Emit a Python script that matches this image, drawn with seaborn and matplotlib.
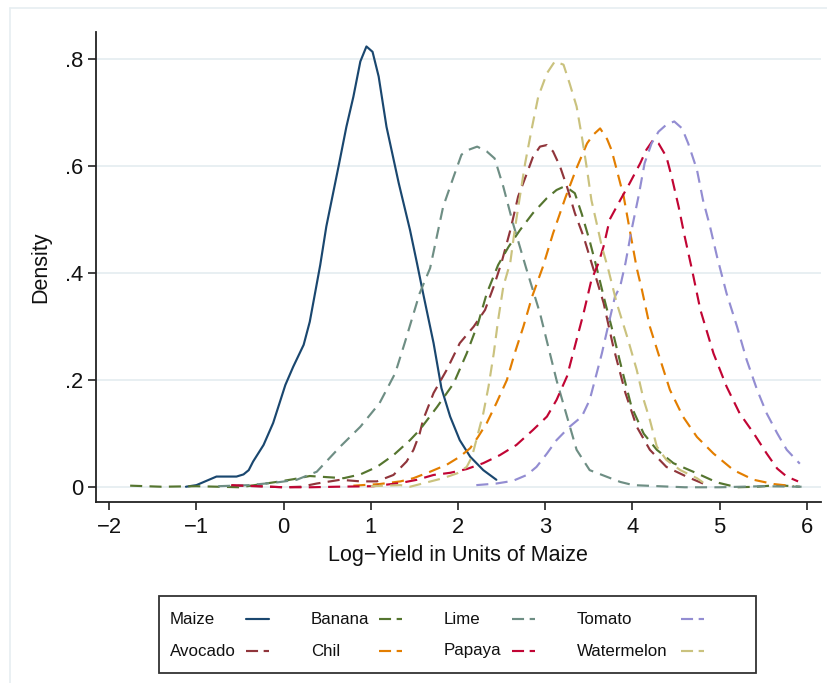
import matplotlib
matplotlib.use("Agg")
import matplotlib.pyplot as plt
from matplotlib.lines import Line2D
from matplotlib.patches import Rectangle
import pandas as pd
import seaborn as sns

# Kernel density estimates of log-yield (in units of maize) by crop
MAIZE_X = [-1.12, -1.0, -0.77, -0.54, -0.46, -0.40, -0.35, -0.23, -0.12, 0.02, 0.11, 0.23, 0.30, 0.36,
           0.42, 0.49, 0.63, 0.72, 0.80, 0.88, 0.95, 1.02, 1.09, 1.18, 1.32, 1.45, 1.53, 1.60, 1.72,
           1.81, 1.91, 2.02, 2.14, 2.29, 2.44]
MAIZE_Y = [0.001, 0.004, 0.020, 0.020, 0.024, 0.032, 0.048, 0.079, 0.120, 0.191, 0.225, 0.266, 0.309,
           0.362, 0.415, 0.487, 0.599, 0.673, 0.729, 0.795, 0.823, 0.813, 0.767, 0.673, 0.568, 0.480,
           0.418, 0.362, 0.269, 0.185, 0.132, 0.088, 0.057, 0.032, 0.014]

AVOCADO_X = [-0.60, -0.30, 0.00, 0.20, 0.38, 0.65, 0.88, 1.07, 1.26, 1.41, 1.49, 1.56, 1.60, 1.72, 1.87,
             2.02, 2.18, 2.31, 2.41, 2.50, 2.60, 2.69, 2.79, 2.86, 2.94, 3.02, 3.09, 3.17, 3.25, 3.34,
             3.44, 3.55, 3.67, 3.78, 3.92, 4.05, 4.20, 4.39, 4.62, 4.81]
AVOCADO_Y = [0.003, 0.002, 0.000, 0.001, 0.007, 0.014, 0.011, 0.011, 0.023, 0.048, 0.070, 0.100, 0.126,
             0.176, 0.219, 0.269, 0.300, 0.331, 0.375, 0.420, 0.480, 0.543, 0.586, 0.617, 0.636, 0.639,
             0.627, 0.599, 0.561, 0.512, 0.468, 0.409, 0.344, 0.263, 0.176, 0.113, 0.070, 0.038, 0.020,
             0.007]

BANANA_X = [-1.76, -1.40, -1.00, -0.50, -0.08, 0.11, 0.30, 0.49, 0.69, 0.88, 1.07, 1.26, 1.45, 1.56,
            1.76, 1.95, 2.10, 2.23, 2.33, 2.46, 2.58, 2.71, 2.86, 3.02, 3.13, 3.21, 3.28, 3.34, 3.42,
            3.51, 3.59, 3.68, 3.76, 3.88, 3.99, 4.13, 4.28, 4.47, 4.74, 4.97, 5.20, 5.43, 5.66, 5.92]
BANANA_Y = [0.003, 0.001, 0.002, 0.000, 0.010, 0.015, 0.021, 0.019, 0.017, 0.024, 0.038, 0.060, 0.088,
            0.107, 0.150, 0.194, 0.250, 0.306, 0.362, 0.415, 0.449, 0.480, 0.512, 0.540, 0.555, 0.561,
            0.556, 0.549, 0.510, 0.460, 0.410, 0.350, 0.300, 0.220, 0.150, 0.100, 0.070, 0.045, 0.026,
            0.009, 0.000, 0.001, 0.004, 0.001]

CHIL_X = [0.80, 1.10, 1.34, 1.49, 1.68, 1.87, 2.02, 2.14, 2.23, 2.33, 2.44, 2.56, 2.65, 2.75, 2.85,
          2.97, 3.09, 3.23, 3.36, 3.48, 3.55, 3.63, 3.71, 3.76, 3.82, 3.90, 3.97, 4.05, 4.11, 4.20,
          4.32, 4.43, 4.58, 4.74, 4.93, 5.16, 5.39, 5.62, 5.85]
CHIL_Y = [0.003, 0.006, 0.011, 0.017, 0.029, 0.042, 0.057, 0.073, 0.094, 0.120, 0.157, 0.200, 0.250,
          0.300, 0.356, 0.410, 0.474, 0.540, 0.596, 0.642, 0.658, 0.670, 0.650, 0.630, 0.593, 0.543,
          0.480, 0.409, 0.368, 0.300, 0.238, 0.182, 0.132, 0.094, 0.063, 0.032, 0.014, 0.006, 0.002]

LIME_X = [-0.75, -0.40, -0.08, 0.15, 0.38, 0.65, 0.88, 1.10, 1.28, 1.39, 1.56, 1.68, 1.83, 1.95, 2.04,
          2.12, 2.22, 2.33, 2.42, 2.52, 2.63, 2.78, 2.94, 3.13, 3.25, 3.36, 3.51, 3.70, 3.86, 4.01,
          4.30, 4.60, 5.00, 5.50, 5.94]
LIME_Y = [0.002, 0.004, 0.009, 0.014, 0.029, 0.076, 0.113, 0.157, 0.213, 0.270, 0.362, 0.409, 0.524,
          0.580, 0.621, 0.630, 0.636, 0.627, 0.614, 0.561, 0.493, 0.410, 0.325, 0.200, 0.132, 0.070,
          0.032, 0.020, 0.010, 0.004, 0.002, 0.000, 0.000, 0.002, 0.001]

PAPAYA_X = [-0.60, -0.30, 0.00, 0.30, 0.60, 1.03, 1.34, 1.53, 1.72, 1.91, 2.10, 2.29, 2.48, 2.67, 2.86,
            3.02, 3.13, 3.25, 3.34, 3.44, 3.53, 3.61, 3.67, 3.74, 3.86, 3.97, 4.09, 4.16, 4.24, 4.30,
            4.39, 4.45, 4.53, 4.60, 4.68, 4.78, 4.93, 5.08, 5.23, 5.39, 5.54, 5.66, 5.77, 5.90]
PAPAYA_Y = [0.004, 0.002, 0.000, 0.000, 0.001, 0.002, 0.008, 0.014, 0.023, 0.027, 0.034, 0.045, 0.060,
            0.079, 0.107, 0.132, 0.163, 0.207, 0.263, 0.325, 0.387, 0.418, 0.450, 0.500, 0.536, 0.568,
            0.605, 0.630, 0.649, 0.642, 0.617, 0.580, 0.524, 0.468, 0.409, 0.331, 0.250, 0.188, 0.138,
            0.101, 0.063, 0.035, 0.020, 0.011]

TOMATO_X = [2.21, 2.44, 2.63, 2.79, 2.90, 3.02, 3.13, 3.28, 3.42, 3.51, 3.57, 3.65, 3.72, 3.80, 3.86,
            3.92, 3.99, 4.07, 4.14, 4.22, 4.30, 4.39, 4.48, 4.57, 4.64, 4.74, 4.81, 4.89, 4.97, 5.08,
            5.20, 5.31, 5.43, 5.54, 5.66, 5.77, 5.92]
TOMATO_Y = [0.004, 0.007, 0.012, 0.023, 0.038, 0.063, 0.088, 0.113, 0.132, 0.163, 0.200, 0.250, 0.300,
            0.356, 0.375, 0.418, 0.480, 0.543, 0.605, 0.642, 0.664, 0.677, 0.683, 0.670, 0.642, 0.593,
            0.536, 0.487, 0.431, 0.362, 0.300, 0.238, 0.182, 0.138, 0.101, 0.070, 0.044]

WATERMELON_X = [1.00, 1.34, 1.45, 1.64, 1.83, 1.99, 2.10, 2.16, 2.21, 2.29, 2.35, 2.41, 2.46, 2.52,
                2.60, 2.65, 2.71, 2.77, 2.85, 2.92, 3.02, 3.11, 3.21, 3.28, 3.36, 3.42, 3.48, 3.53,
                3.59, 3.65, 3.72, 3.82, 3.94, 4.05, 4.13, 4.20, 4.28, 4.39, 4.55, 4.74, 4.81]
WATERMELON_Y = [0.002, 0.004, 0.001, 0.009, 0.017, 0.026, 0.038, 0.057, 0.088, 0.138, 0.188, 0.250,
                0.312, 0.375, 0.420, 0.480, 0.543, 0.605, 0.673, 0.729, 0.773, 0.795, 0.789, 0.754,
                0.711, 0.655, 0.593, 0.536, 0.493, 0.449, 0.409, 0.344, 0.281, 0.219, 0.163, 0.126,
                0.076, 0.051, 0.032, 0.017, 0.009]

CROPS = ["Maize", "Avocado", "Banana", "Chil", "Lime", "Papaya", "Tomato", "Watermelon"]
SERIES = {
    "Maize": (MAIZE_X, MAIZE_Y),
    "Avocado": (AVOCADO_X, AVOCADO_Y),
    "Banana": (BANANA_X, BANANA_Y),
    "Chil": (CHIL_X, CHIL_Y),
    "Lime": (LIME_X, LIME_Y),
    "Papaya": (PAPAYA_X, PAPAYA_Y),
    "Tomato": (TOMATO_X, TOMATO_Y),
    "Watermelon": (WATERMELON_X, WATERMELON_Y),
}
COLORS = {
    "Maize": "#1a476f", "Avocado": "#90353b", "Banana": "#55752f", "Chil": "#e37e00",
    "Lime": "#6e8e84", "Papaya": "#c10534", "Tomato": "#938dd2", "Watermelon": "#cac27e",
}
X_TICKS = [-2, -1, 0, 1, 2, 3, 4, 5, 6]
Y_TICKS = [0, 0.2, 0.4, 0.6, 0.8]
Y_TICK_LABELS = ["0", ".2", ".4", ".6", ".8"]
LEGEND_ROWS = [["Maize", "Banana", "Lime", "Tomato"], ["Avocado", "Chil", "Papaya", "Watermelon"]]

DASH = (5.6, 3.4)
DASHES = {c: ("" if c == "Maize" else DASH) for c in CROPS}

frames = []
for crop in CROPS:
    xs, ys = SERIES[crop]
    frames.append(pd.DataFrame({"x": xs, "y": ys, "crop": crop}))
df = pd.concat(frames, ignore_index=True)

sns.set_theme(style="ticks")
plt.rcParams["font.family"] = ["Liberation Sans", "DejaVu Sans"]

W, H = 827, 683
fig = plt.figure(figsize=(W / 100, H / 100), dpi=100)
fig.patch.set_facecolor("white")

# plot region in pixels: left 96, right 821, top 32, bottom 502
L, R, T, B = 95.7, 821.0, 32.0, 502.0
ax = fig.add_axes([L / W, 1 - B / H, (R - L) / W, (B - T) / H])
ax.set_facecolor("white")

sns.lineplot(data=df, x="x", y="y", hue="crop", style="crop", hue_order=CROPS, style_order=CROPS,
             palette=COLORS, dashes=DASHES, estimator=None, sort=False, linewidth=1.55,
             legend=False, ax=ax)

ax.set_xlim(-2.155, 6.163)
ax.set_ylim(-0.0275, 0.850)
ax.set_xticks(X_TICKS)
ax.set_xticklabels([f"{v}".replace("-", "\u2212") for v in X_TICKS])
ax.set_yticks(Y_TICKS)
ax.set_yticklabels(Y_TICK_LABELS)
ax.set_axisbelow(True)
ax.yaxis.grid(True, color="#e6eef1", linewidth=1.3)
ax.xaxis.grid(False)

for side in ("top", "right"):
    ax.spines[side].set_visible(False)
for side in ("left", "bottom"):
    ax.spines[side].set_color("#222222")
    ax.spines[side].set_linewidth(1.3)
ax.tick_params(axis="both", direction="out", length=6, width=1.2, color="#222222",
               labelsize=15.8, labelcolor="#111111")
ax.tick_params(axis="x", pad=5)
ax.tick_params(axis="y", pad=3)

ax.set_xlabel("Log\u2212Yield in Units of Maize", fontsize=15.5, color="#111111", labelpad=5)
ax.set_ylabel("Density", fontsize=15.5, color="#111111", labelpad=10)

# overlay in pixel coordinates for the outer frame and the legend box
ov = fig.add_axes([0, 0, 1, 1], facecolor="none")
ov.set_xlim(0, W)
ov.set_ylim(H, 0)
ov.axis("off")

ov.add_line(Line2D([10, 10], [8, H], color="#e6eef1", linewidth=1.2))
ov.add_line(Line2D([10, W], [8, 8], color="#e6eef1", linewidth=1.2))

ov.add_patch(Rectangle((158.5, 596), 597, 77, facecolor="white", edgecolor="#333333", linewidth=1.3))
text_x = [170, 311, 444, 577]
key_x = [246, 379, 512, 681]
row_y = [619, 651]
for r, row in enumerate(LEGEND_ROWS):
    for c, crop in enumerate(row):
        ov.text(text_x[c], row_y[r], crop, fontsize=12.2, color="#111111", va="center", ha="left")
        ln = Line2D([key_x[c], key_x[c] + 23], [row_y[r], row_y[r]], color=COLORS[crop],
                    linewidth=1.55)
        if crop != "Maize":
            ln.set_dashes((5.6, 2.6))
        ov.add_line(ln)

fig.savefig("out.png", dpi=100, facecolor="white")
